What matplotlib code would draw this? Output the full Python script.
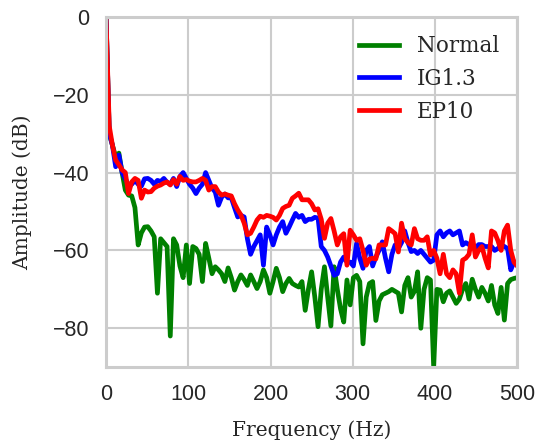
import numpy as np
import matplotlib
matplotlib.use("Agg")
import matplotlib.pyplot as plt

# spectrum bins, 0..500 Hz
freq = np.arange(129) * 500.0 / 128

normal = [0, -30, -33, -36, -35, -40, -44.5, -45.8, -46, -49,
          -58.6, -55.5, -54, -53.9, -55, -56.5, -71, -57, -58, -59,
          -82, -57, -58.6, -64, -67, -58.6, -68.5, -59, -59.5, -61,
          -68, -58.2, -62, -66, -64.2, -65, -66, -68, -64.5, -67,
          -70.2, -68, -66.3, -67.5, -69, -66.3, -68, -69.8, -68, -65,
          -67, -71, -68, -64.6, -67, -70.6, -68.5, -67.2, -68.5, -69,
          -69.4, -68, -75.4, -70, -65.5, -72, -79.6, -70, -64.2, -72,
          -79.4, -64.2, -70, -75, -78.4, -67.6, -74, -67, -66.4, -68,
          -84, -72, -68.5, -68, -78, -73, -71.4, -71, -70.6, -70,
          -70.5, -71, -75.8, -69, -67, -72, -70.5, -65.5, -80, -70,
          -67, -67.6, -90, -70, -70.2, -73.2, -71, -70.4, -72, -73.6,
          -72.5, -70, -68.5, -72.5, -67.4, -70, -72, -69.5, -71, -73,
          -69, -74, -76.2, -69.5, -77.9, -68.5, -67.5, -67.2, -67]

ig13 = [0, -30, -33, -38.5, -35.5, -40, -41.6, -43.2, -43, -42,
        -43, -43.5, -41.6, -41.5, -42, -43, -42, -42.3, -41.5, -42.5,
        -43, -41.5, -43.6, -41, -40, -41.5, -43, -44, -45.4, -44,
        -43, -40, -42, -44, -45, -48.4, -46.3, -45.5, -46.5, -46.5,
        -49, -51.4, -51, -51.4, -57, -61, -59, -57.5, -56, -63.8,
        -54, -56, -58.6, -56, -54, -52.6, -55.6, -54, -52.2, -50.5,
        -51.5, -51, -52.6, -52, -52, -51.5, -51.7, -59, -60, -61.7,
        -64, -66.4, -66, -63, -61.7, -63, -63, -64, -58.2, -62,
        -64.6, -60, -59, -64, -61.7, -60, -57.8, -62, -65.5, -61,
        -58.6, -59.5, -58, -55, -58, -60.3, -60, -60.8, -60, -61,
        -62, -63, -62.5, -56, -55, -56.5, -55.5, -55, -56, -55.5,
        -55, -58.6, -58, -58.5, -59, -59.4, -58.5, -58.5, -59, -59,
        -59, -60, -59.5, -58.5, -59, -59.5, -65, -63, -63]

ep10 = [0, -28, -33, -36.8, -38, -39.3, -40, -45.4, -42.4, -41.5,
        -42, -46.6, -44.5, -45, -44.9, -44, -43.5, -43.2, -42.7, -42.4,
        -43.2, -41.8, -43, -41, -42, -41.8, -42.2, -42.4, -42.4, -42,
        -41.5, -42, -44.5, -43.6, -43.6, -45, -45.8, -45.5, -45.8, -46,
        -48, -49.6, -50.9, -53, -56, -55.6, -54, -52.2, -51.2, -51.5,
        -51, -51.2, -51.5, -52.2, -51, -49.2, -48.7, -48.4, -46.6, -46,
        -45.3, -47, -47, -47, -48, -49.6, -49.3, -52, -56.9, -53,
        -51.8, -55, -58.6, -56.5, -55.7, -63.8, -54.8, -56, -57.4, -57,
        -60, -63.8, -62.2, -62, -62.2, -58.6, -58.6, -58.6, -54.4, -55,
        -55.7, -60.4, -53, -57, -58, -58.6, -54.4, -57, -57.4, -57.4,
        -56.5, -61.2, -60, -62, -66, -61, -66, -67, -65, -66,
        -71, -62.5, -62, -61, -56, -61.7, -60, -59, -62, -64.5,
        -55, -55.5, -57.5, -60, -55, -53.5, -60, -63, -64]

series = [("Normal", normal, "green"), ("IG1.3", ig13, "blue"), ("EP10", ep10, "red")]

grey = "#cccccc"
fig = plt.figure(figsize=(5.41, 4.44), dpi=100)
ax = fig.add_axes([0.196, 0.173, 0.76, 0.789])

for name, vals, col in series:
    ax.plot(freq, vals, color=col, lw=3.4, label=name)

ax.set_xlim(0, 500)
ax.set_ylim(-90, 0)
ax.set_xticks([0, 100, 200, 300, 400, 500])
ax.set_yticks([0, -20, -40, -60, -80])
ax.grid(True, color=grey, lw=1.5)
ax.set_axisbelow(True)
for s in ax.spines.values():
    s.set_color(grey)
    s.set_linewidth(2.2)
ax.tick_params(length=0, pad=12, labelsize=15.5, labelcolor="#262626")
for lab in ax.get_xticklabels() + ax.get_yticklabels():
    lab.set_family("Liberation Sans")

ax.set_xlabel("Frequency (Hz)", family="DejaVu Serif", fontsize=14.5, color="#262626", labelpad=11)
ax.set_ylabel("Amplitude (dB)", family="DejaVu Serif", fontsize=14.5, color="#262626", labelpad=15)

leg = ax.legend(loc="upper right", frameon=False, prop={"family": "DejaVu Serif", "size": 15.5},
                handlelength=1.9, labelspacing=0.5, borderaxespad=0.45)
for t in leg.get_texts():
    t.set_color("#262626")

fig.savefig("out.png", dpi=100)
